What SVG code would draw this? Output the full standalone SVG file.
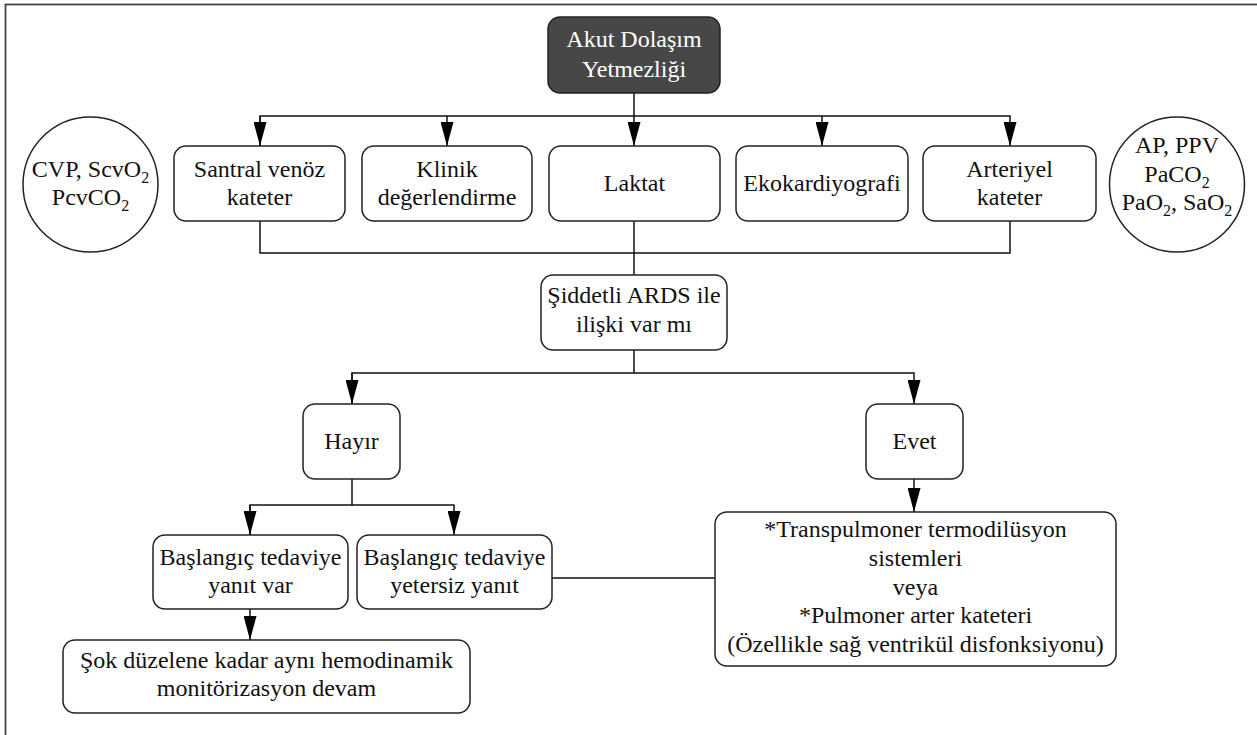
<svg xmlns="http://www.w3.org/2000/svg" width="1257" height="735" viewBox="0 0 1257 735" font-family="'Liberation Serif', 'DejaVu Serif', serif">
<defs>
<marker id="arr" viewBox="0 0 24 13" refX="24" refY="6.5" markerWidth="24" markerHeight="13" markerUnits="userSpaceOnUse" orient="auto">
<path d="M0,0 L24,6.5 L0,13 z" fill="#000"/>
</marker>
<style>
.box{fill:#fff;stroke:#222;stroke-width:1.5}
.dark{fill:#474747;stroke:#222;stroke-width:1.5}
.t{font-family:'Liberation Serif','DejaVu Serif',serif;font-size:24px;fill:#111;text-anchor:middle}
.w{fill:#fff}
.c{fill:none;stroke:#111;stroke-width:1.5}
.sub{font-size:16px}
</style>
</defs>
<rect x="0" y="0" width="1257" height="735" fill="#fff"/>
<rect x="5.5" y="4.5" width="1270" height="760" fill="none" stroke="#444" stroke-width="1.8"/>

<g id="connectors">
<path class="c" d="M634,93 V146" marker-end="url(#arr)"/>
<path class="c" d="M260,146 V116 H1010 V146" marker-end="url(#arr)"/>
<path class="c" d="M260,116 V146" marker-end="url(#arr)"/>
<path class="c" d="M447,116 V146" marker-end="url(#arr)"/>
<path class="c" d="M822,116 V146" marker-end="url(#arr)"/>
<path class="c" d="M260,221 V253 H1010 V221"/>
<path class="c" d="M634,221 V275"/>
<path class="c" d="M634,350 V373"/>
<path class="c" d="M352,404 V373 H914 V404" marker-end="url(#arr)"/>
<path class="c" d="M352,373 V404" marker-end="url(#arr)"/>
<path class="c" d="M352,479 V505"/>
<path class="c" d="M250,535 V505 H454 V535" marker-end="url(#arr)"/>
<path class="c" d="M250,505 V535" marker-end="url(#arr)"/>
<path class="c" d="M250,609 V640" marker-end="url(#arr)"/>
<path class="c" d="M552,578 H715"/>
<path class="c" d="M914,479 V512" marker-end="url(#arr)"/>
</g>

<g id="n-akut">
<rect class="dark" x="548" y="17" width="172" height="76" rx="12"/>
<text class="t w" x="634" y="47">Akut Dolaşım</text>
<text class="t w" x="634" y="77">Yetmezliği</text>
</g>

<g id="n-cvp">
<circle class="box" cx="90.5" cy="184.5" r="67.5"/>
<text class="t" x="90.5" y="177">CVP, ScvO<tspan class="sub" dy="6">2</tspan></text>
<text class="t" x="90.5" y="205">PcvCO<tspan class="sub" dy="6">2</tspan></text>
</g>

<g id="n-ap">
<circle class="box" cx="1177" cy="184.5" r="67.5"/>
<text class="t" x="1177" y="153">AP, PPV</text>
<text class="t" x="1177" y="182">PaCO<tspan class="sub" dy="6">2</tspan></text>
<text class="t" x="1177" y="210">PaO<tspan class="sub" dy="6">2</tspan><tspan dy="-6">, SaO</tspan><tspan class="sub" dy="6">2</tspan></text>
</g>

<g id="n-santral">
<rect class="box" x="174" y="146" width="171" height="75" rx="12"/>
<text class="t" x="259.5" y="177">Santral venöz</text>
<text class="t" x="259.5" y="205">kateter</text>
</g>

<g id="n-klinik">
<rect class="box" x="362" y="146" width="170" height="75" rx="12"/>
<text class="t" x="447" y="177">Klinik</text>
<text class="t" x="447" y="205">değerlendirme</text>
</g>

<g id="n-laktat">
<rect class="box" x="549" y="146" width="171" height="75" rx="12"/>
<text class="t" x="634.5" y="191">Laktat</text>
</g>

<g id="n-eko">
<rect class="box" x="736" y="146" width="172" height="75" rx="12"/>
<text class="t" x="822" y="191">Ekokardiyografi</text>
</g>

<g id="n-arteriyel">
<rect class="box" x="923" y="146" width="173" height="75" rx="12"/>
<text class="t" x="1009.5" y="177">Arteriyel</text>
<text class="t" x="1009.5" y="205">kateter</text>
</g>

<g id="n-ards">
<rect class="box" x="541" y="275" width="186" height="75" rx="12"/>
<text class="t" x="634" y="303">Şiddetli ARDS ile</text>
<text class="t" x="634" y="332">ilişki var mı</text>
</g>

<g id="n-hayir">
<rect class="box" x="303" y="404" width="97" height="75" rx="12"/>
<text class="t" x="351.5" y="449">Hayır</text>
</g>

<g id="n-evet">
<rect class="box" x="866" y="404" width="97" height="75" rx="12"/>
<text class="t" x="914.5" y="449">Evet</text>
</g>

<g id="n-yanitvar">
<rect class="box" x="153" y="535" width="195" height="74" rx="12"/>
<text class="t" x="250.5" y="565">Başlangıç tedaviye</text>
<text class="t" x="250.5" y="593">yanıt var</text>
</g>

<g id="n-yetersiz">
<rect class="box" x="357" y="535" width="195" height="74" rx="12"/>
<text class="t" x="454.5" y="565">Başlangıç tedaviye</text>
<text class="t" x="454.5" y="593">yetersiz yanıt</text>
</g>

<g id="n-sok">
<rect class="box" x="63" y="640" width="407" height="73" rx="12"/>
<text class="t" x="266.5" y="668">Şok düzelene kadar aynı hemodinamik</text>
<text class="t" x="266.5" y="696">monitörizasyon devam</text>
</g>

<g id="n-transpulmoner">
<rect class="box" x="715" y="512" width="401" height="154" rx="12"/>
<text class="t" x="915.5" y="537">*Transpulmoner termodilüsyon</text>
<text class="t" x="915.5" y="566">sistemleri</text>
<text class="t" x="915.5" y="595">veya</text>
<text class="t" x="915.5" y="623">*Pulmoner arter kateteri</text>
<text class="t" x="915.5" y="652">(Özellikle sağ ventrikül disfonksiyonu)</text>
</g>
</svg>
